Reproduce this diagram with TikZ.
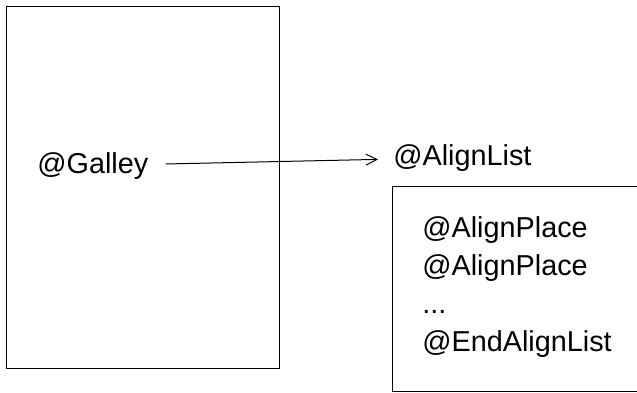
\documentclass[tikz,border=0pt]{standalone}
\usepackage{fontspec}
\setmainfont{Liberation Sans}
\usetikzlibrary{arrows.meta}

\tikzstyle{marco}= [draw,black,line width=0.5pt]
\tikzstyle{texto}= [anchor=base west,inner sep=0pt,font=\fontsize{14.4}{19}\selectfont]

\begin{document}
\begin{tikzpicture}[x=0.5pt,y=-0.5pt]

		\useasboundingbox (0,0) rectangle (637,392);

		\draw[marco] (6,6) rectangle (279,368);
		\draw[marco] (392,186) rectangle (660,391);

		\node (g) at (37,173) [texto] {@Galley};
		\node (al) at (393,165) [texto] {@AlignList};

		\node (p1) at (422,237) [texto] {@AlignPlace};
		\node (p2) at (422,275) [texto] {@AlignPlace};
		\node (pp) at (422,313) [texto] {...};
		\node (end) at (422,351) [texto] {@EndAlignList};

		\path[black,line width=0.5pt,-{Straight Barb[length=5.5pt,width=5.5pt]}] (g) edge[shorten <=8.5pt,shorten >=7.5pt] node {} (al);

	\end{tikzpicture}
\end{document}
